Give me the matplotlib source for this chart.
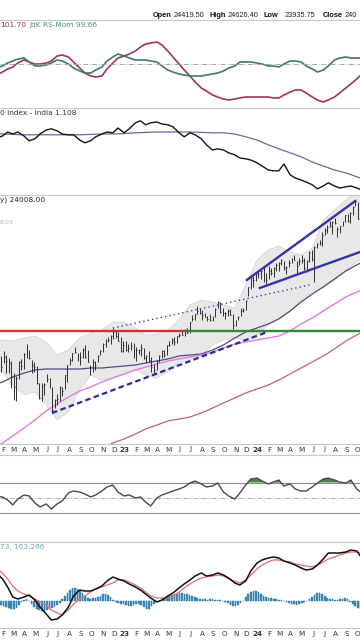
import matplotlib
matplotlib.use("Agg")
import matplotlib.pyplot as plt
import matplotlib.dates as mdates
import numpy as np
import pandas as pd

plt.rcParams['font.family'] = ['DejaVu Sans']

# ---------------- weekly price bars (Nifty-like, log scale) ----------------
closes = [17617, 17102, 17516, 17375, 17276, 16658, 16245, 16630, 17287, 17153,
          17670, 17784, 17476, 17172, 17102, 16411, 15782, 16266, 16352, 16584,
          16202, 15293, 15699, 15752, 16221, 16049, 16719, 17158, 17397, 17698,
          17758, 17558, 17539, 17833, 17531, 17327, 17094, 17315, 17186, 17576,
          17787, 18117, 18350, 18308, 18512, 18696, 18497, 18269, 17806, 18105,
          17859, 17956, 18027, 17604, 17854, 17856, 17944, 17466, 17594, 17413,
          17100, 16945, 17360, 17599, 17828, 17624, 18065, 18069, 18315, 18203,
          18499, 18534, 18563, 18826, 18665, 19189, 19332, 19564, 19745, 19646,
          19517, 19428, 19310, 19265, 19435, 19820, 20192, 19674, 19638, 19654,
          19751, 19542, 19047, 19230, 19425, 19732, 19795, 20268, 20970, 21457,
          21349, 21731,
          21711, 21895, 21572, 21353, 21854, 21783, 22041, 22213, 22339, 22494,
          22023, 22097, 22327, 22514, 22519, 22147, 22420, 22476, 22055, 22466,
          22957, 22531, 23290, 23466, 23501, 24010, 24323, 24502, 24531, 24834,
          24718, 24367, 24541, 24823, 25235, 24852, 25356, 25791, 26179, 25015,
          24964, 24854, 24181]
highs = [18350, 17600, 17794, 17640, 17490, 17351, 16815, 16694, 17344, 17442,
         17703, 18114, 17842, 17414, 17322, 17132, 16404, 16400, 16415, 16793,
         16611, 16236, 15749, 15927, 16275, 16248, 16752, 17172, 17490, 17724,
         17992, 17726, 17777, 17925, 18096, 17838, 17196, 17428, 17348, 17637,
         17838, 18176, 18362, 18443, 18534, 18887, 18728, 18696, 18473, 18265,
         18252, 18141, 18201, 18183, 17972, 17916, 18134, 17954, 17645, 17800,
         17529, 17207, 17381, 17638, 17842, 17864, 18089, 18263, 18389, 18458,
         18508, 18663, 18777, 18864, 18886, 19201, 19523, 19595, 19991, 19867,
         19795, 19645, 19495, 19584, 19458, 19867, 20222, 20195, 19877, 19674,
         19843, 19849, 19593, 19276, 19464, 19876, 19876, 20291, 21006, 21493,
         21593, 21801,
         21834, 21929, 22124, 21750, 22127, 22053, 22068, 22297, 22353, 22526,
         22446, 22180, 22516, 22619, 22775, 22427, 22626, 22794, 22588, 22503,
         23026, 23110, 23338, 23490, 23667, 24174, 24401, 24592, 24854, 24861,
         25078, 24472, 24563, 24867, 25269, 25333, 25433, 25849, 26277, 26135,
         25234, 25212, 24882]
lows = [17500, 16866, 17244, 16839, 16843, 16203, 15711, 15671, 16555, 16978,
        17006, 17506, 17442, 16824, 16889, 16340, 15735, 15671, 15903, 16438,
        16172, 15183, 15367, 15511, 15662, 15859, 16142, 16438, 17155, 17359,
        17710, 17345, 17166, 17487, 17497, 17292, 16748, 16855, 16950, 17312,
        17637, 17774, 17969, 18209, 18133, 18365, 18410, 18255, 17780, 17774,
        17796, 17774, 17852, 17493, 17353, 17652, 17573, 17456, 17256, 17324,
        16850, 16828, 16940, 17312, 17503, 17553, 17612, 18043, 18115, 18060,
        18178, 18465, 18557, 18483, 18646, 18647, 19241, 19295, 19563, 19563,
        19296, 19412, 19253, 19230, 19223, 19433, 19865, 19657, 19492, 19333,
        19480, 19520, 18837, 18973, 19258, 19493, 19669, 19768, 20507, 20862,
        20976, 21330,
        21500, 21448, 21285, 21137, 21448, 21630, 21530, 21876, 21860, 22224,
        21905, 21710, 22073, 22346, 22503, 21777, 22202, 22348, 21932, 21821,
        22404, 22418, 21281, 23206, 23398, 23350, 23992, 24141, 24504, 24074,
        24686, 23894, 24100, 24524, 24817, 24801, 24753, 25286, 25847, 24967,
        24694, 24567, 24074]
weeks = pd.date_range('2022-01-21', periods=len(closes), freq='W-FRI')

# ---------------- monthly overlays ----------------
months = pd.date_range('2022-01-01', periods=35, freq='MS')
ma_navy = [16300, 16441, 16654, 16826, 16957, 17000, 17000, 17000, 17000, 17044,
           17044, 17089, 17133, 17177, 17264, 17354, 17444, 17579, 17623, 17669,
           17852, 18083, 18411, 18697, 18891, 19085, 19333, 19733, 20195, 20614,
           20989, 21425, 21870, 22210, 22555]
ma_magenta = [13800, 14057, 14311, 14609, 14913, 15261, 15539, 15821, 16067, 16232,
              16441, 16612, 16783, 16957, 17089, 17221, 17354, 17444, 17533, 17623,
              17759, 17944, 18129, 18223, 18317, 18411, 18505, 18744, 19085, 19383,
              19733, 20092, 20456, 20722, 20989]
bb_upper = [18350, 18317, 18270, 18411, 18505, 18225, 17623, 17852, 18411, 18650,
            18794, 19185, 19185, 18890, 18554, 18600, 18794, 19282, 20041, 20300,
            20195, 20041, 19890, 21098, 22497, 23083, 23322, 22970, 22788, 23200,
            24932, 25582, 26247, 26790, 26587]
bb_lower = [17200, 16870, 16316, 15901, 16026, 15499, 14913, 15222, 16108, 16741,
            16527, 16612, 16870, 16957, 16741, 16612, 16870, 17310, 17398, 17623,
            18083, 18317, 18411, 18317, 18554, 19036, 19380, 19700, 20300, 20720,
            20960, 21370, 21927, 22380, 22788]
brown_months = pd.date_range('2022-10-01', periods=26, freq='MS')
ma_brown = [13700, 13876, 14057, 14202, 14384, 14571, 14721, 14875, 14951, 15028,
            15183, 15379, 15578, 15780, 15983, 16149, 16316, 16527, 16783, 17044,
            17310, 17579, 17898, 18270, 18554, 18843]

# trend lines (date, price)
level_price = 18750
level_red = ['2022-01-01', '2023-06-21']
level_green = ['2023-06-21', '2024-12-31']
dotted_dates, dotted_prices = ['2022-12-01', '2024-05-24'], [18887, 21098]
dashed_dates, dashed_prices = ['2022-06-17', '2024-01-28'], [15183, 18690]
wedge_up_dates, wedge_up_prices = ['2023-12-04', '2024-09-27'], [21370, 26180]
wedge_lo_dates, wedge_lo_prices = ['2024-01-09', '2024-10-10'], [20936, 22964]

# ---------------- indicator panels (semi-monthly readings) ----------------
half = pd.date_range('2022-01-15', periods=67, freq='SMS')
rs_ratio = [98.9, 99.2, 99.5, 99.7, 100.1, 100.4, 100.2, 100.0, 100.0, 100.1,
            100.3, 100.8, 100.9, 100.7, 100.2, 99.6, 99.1, 98.8, 98.7, 98.8,
            99.5, 100.1, 100.6, 100.8, 101.0, 101.3, 101.7, 102.0, 102.1, 102.2,
            101.9, 101.3, 100.7, 100.0, 99.4, 98.8, 98.2, 97.6, 97.3, 96.9,
            96.7, 96.5, 96.4, 96.5, 96.6, 96.7, 96.7, 96.7, 96.7, 96.7,
            96.6, 96.6, 96.9, 97.2, 97.4, 97.4, 97.1, 96.7, 96.4, 96.2,
            96.4, 96.7, 97.1, 97.6, 98.0, 98.5, 99.0]
rs_mom = [99.6, 99.8, 100.1, 100.3, 100.5, 100.6, 100.2, 99.8, 99.8, 99.9,
          100.1, 100.4, 100.3, 100.0, 99.6, 99.3, 99.1, 99.1, 99.4, 99.7,
          100.3, 100.7, 101.0, 100.8, 100.6, 100.4, 100.4, 100.4, 100.3, 100.2,
          99.8, 99.4, 99.2, 99.0, 98.9, 98.8, 98.8, 98.8, 98.9, 99.0,
          99.1, 99.3, 99.6, 99.8, 100.2, 100.2, 100.2, 100.1, 100.0, 99.8,
          99.8, 99.7, 100.0, 100.3, 100.3, 100.2, 99.8, 99.5, 99.2, 99.4,
          99.8, 100.4, 100.6, 100.7, 100.6, 100.6, 100.6]
ratio = [1.238, 1.243, 1.253, 1.248, 1.253, 1.243, 1.231, 1.236, 1.248, 1.258,
         1.261, 1.256, 1.248, 1.246, 1.246, 1.233, 1.226, 1.231, 1.241, 1.248,
         1.253, 1.251, 1.263, 1.251, 1.261, 1.276, 1.281, 1.271, 1.276, 1.278,
         1.273, 1.271, 1.266, 1.251, 1.241, 1.251, 1.246, 1.236, 1.221, 1.208,
         1.211, 1.208, 1.201, 1.196, 1.188, 1.186, 1.183, 1.176, 1.168, 1.158,
         1.156, 1.156, 1.173, 1.146, 1.138, 1.133, 1.128, 1.121, 1.111, 1.118,
         1.126, 1.118, 1.113, 1.116, 1.118, 1.113, 1.108]
ratio_ma = [1.248, 1.248, 1.247, 1.246, 1.246, 1.246, 1.246, 1.246, 1.246, 1.247,
            1.248, 1.248, 1.249, 1.251, 1.252, 1.253, 1.253, 1.253, 1.253, 1.252,
            1.251, 1.251, 1.248, 1.241, 1.233, 1.221, 1.211, 1.201, 1.191, 1.178,
            1.168, 1.158, 1.151, 1.141, 1.133]
rsi = [52.6, 51.3, 47.4, 41.0, 48.7, 53.9, 52.6, 43.5, 38.4, 42.3,
       35.8, 42.3, 46.1, 56.5, 59.0, 57.7, 55.2, 51.3, 53.9, 59.0,
       64.2, 66.8, 57.7, 52.6, 53.9, 50.0, 51.3, 44.8, 39.7, 50.0,
       53.9, 56.5, 59.0, 61.6, 64.2, 69.4, 71.9, 68.1, 64.2, 65.5,
       69.4, 57.7, 52.6, 48.7, 56.5, 66.8, 74.5, 75.8, 71.9, 68.1,
       70.6, 73.2, 65.5, 68.1, 61.6, 59.0, 59.0, 64.2, 69.4, 74.5,
       75.8, 73.2, 70.6, 69.4, 73.2, 61.6, 56.5]
macd = [700, 550, 350, 100, 50, 100, 150, 25, -150, -325,
        -475, -450, -350, -150, 125, 275, 250, 250, 300, 375,
        500, 600, 550, 500, 425, 350, 275, 175, 75, -25,
        25, 125, 200, 325, 425, 525, 625, 700, 625, 650,
        700, 650, 575, 450, 400, 500, 750, 950, 1025, 1075,
        1100, 1075, 1000, 950, 900, 825, 775, 800, 900, 1050,
        1200, 1200, 1200, 1225, 1275, 1250, 1075]
signal = [825, 700, 550, 375, 250, 175, 125, 50, -25, -100,
          -225, -300, -350, -225, -75, 50, 125, 225, 300, 350,
          400, 450, 525, 525, 475, 400, 325, 225, 125, 75,
          75, 75, 125, 225, 325, 425, 500, 575, 600, 625,
          650, 625, 550, 500, 450, 525, 650, 800, 900, 975,
          1025, 1025, 1000, 975, 925, 900, 875, 850, 900, 975,
          1050, 1100, 1150, 1200, 1225, 1225, 1200]
hist = [-100, -100, -125, -150, -175, -200, -200, -175, -100, -25, 25, 50, 0,
        -75, -150, -200, -225, -250, -250, -225, -200, -175, -150, -100, -50,
        50, 125, 200, 275, 325, 325, 300, 250, 200, 125, 75, 50, 75, 75, 100,
        125, 175, 175, 150, 100, 25, -25, -50, -75, -75, -100, -125, -125, -100,
        -75, -75, -100, -150, -200, -200, -125, -75, -25, 0, 25, 50,
        100, 125, 150, 175, 175, 200, 200, 175, 175, 150, 125, 100, 75,
        50, 50, 50, 25, 50, 50, 25, 25, 25, 0, -25, -50,
        -100, -125, -125, -100, -50, 0, 100, 175, 225, 250, 250, 225, 175,
        125, 100, 75, 75, 50, 50, 25, 25, 0, -25, -50, -75, -75, -100, -75,
        -50, -25, 0, 50, 100, 150, 200, 200, 175, 125, 75, 50, 50, 25, 25,
        50, 50, 75, 50, -25, -75, -125, -175, -200, -200, -200]

month_labels = ['F', 'M', 'A', 'M', 'J', 'J', 'A', 'S', 'O', 'N', 'D', '23',
                'F', 'M', 'A', 'M', 'J', 'J', 'A', 'S', 'O', 'N', 'D', '24',
                'F', 'M', 'A', 'M', 'J', 'J', 'A', 'S', 'O']
label_months = pd.date_range('2022-02-01', periods=len(month_labels), freq='MS')

# ---------------- figure ----------------
W, H = 360, 640
fig = plt.figure(figsize=(3.6, 6.4), dpi=100)


def axes_px(top, bottom):
    return fig.add_axes([0, 1 - bottom / H, 1, (bottom - top) / H])


ax1 = axes_px(20, 108)
ax2 = axes_px(108, 195)
ax3 = axes_px(195, 444)
ax4 = axes_px(455, 542)
ax5 = axes_px(542, 628)

x0, x1 = pd.Timestamp('2022-01-25'), pd.Timestamp('2024-10-10')
grid_c = '#c8c8c8'
for ax in (ax1, ax2, ax3, ax4, ax5):
    ax.set_xlim(x0, x1)
    ax.tick_params(which='both', left=False, bottom=False, right=False, top=False,
                   labelleft=False, labelbottom=False)
    for s in ax.spines.values():
        s.set_visible(False)
    ax.spines['top'].set_visible(True)
    ax.spines['top'].set_color(grid_c)
    ax.spines['top'].set_linewidth(0.8)
    ax.patch.set_alpha(0)
for ax in (ax3, ax4, ax5):
    ax.spines['bottom'].set_visible(True)
    ax.spines['bottom'].set_color(grid_c)
    ax.spines['bottom'].set_linewidth(0.8)

# panel 1: RS-Ratio / RS-Momentum
ax1.plot(half, rs_ratio, color='#a3335f', lw=1.2)
ax1.plot(half, rs_mom, color='#3d7d5c', lw=1.2)
ax1.axhline(100, color='#9a9a9a', lw=0.6, ls=(0, (6, 2, 1, 2)))
ax1.set_ylim(95.6, 104.4)

# panel 2: relative ratio
ax2.plot(months, ratio_ma, color='#6a6aa0', lw=0.9)
ax2.plot(half, ratio, color='#151515', lw=1.0)
ax2.set_ylim(1.0955, 1.313)

# panel 3: price
ax3.set_yscale('log')
ax3.fill_between(months, bb_lower, bb_upper, color='#e8e8e8', lw=0, zorder=1)
ax3.plot(months, bb_upper, color='#d0d0d0', lw=0.5, zorder=1)
ax3.plot(months, bb_lower, color='#d0d0d0', lw=0.5, zorder=1)
ax3.plot(months, ma_navy, color='#4b4b82', lw=0.9, zorder=2)
ax3.plot(months, ma_magenta, color='#e07be0', lw=1.0, zorder=2)
ax3.plot(brown_months, ma_brown, color='#c0607a', lw=0.9, zorder=2)

wx = mdates.date2num(weeks)
ax3.vlines(wx, lows, highs, color='#2e2e2e', lw=0.7, zorder=3)
ax3.hlines(closes, wx, wx + 2.5, color='#2e2e2e', lw=0.7, zorder=3)

ax3.plot(pd.to_datetime(level_red), [level_price] * 2, color='#c8372d', lw=1.7, zorder=4)
ax3.plot(pd.to_datetime(level_green), [level_price] * 2, color='#2f8a36', lw=1.7, zorder=4)
ax3.plot(pd.to_datetime(dotted_dates), dotted_prices, color='#3a3aa5', lw=1.0,
         ls=(0, (1, 2.2)), zorder=4)
ax3.plot(pd.to_datetime(dashed_dates), dashed_prices, color='#2a2a9a', lw=1.6,
         ls=(0, (2.5, 1.5)), zorder=4)
ax3.plot(pd.to_datetime(wedge_up_dates), wedge_up_prices, color='#3333a8', lw=1.7, zorder=4)
ax3.plot(pd.to_datetime(wedge_lo_dates), wedge_lo_prices, color='#3333a8', lw=1.7, zorder=4)
ax3.set_ylim(14020, 26587)
ax3.tick_params(which='both', left=False, labelleft=False)

# panel 4: RSI
rsi_a = np.array(rsi)
ax4.plot(half, rsi, color='#4a4a4a', lw=1.0, zorder=3)
ax4.fill_between(half, rsi_a, 70, where=rsi_a > 70, interpolate=True,
                 color='#4e7d50', lw=0, zorder=2)
ax4.axhline(70, color='#8c8c8c', lw=0.8)
ax4.axhline(30, color='#8c8c8c', lw=0.8)
ax4.axhline(50, color='#a0a0a0', lw=0.6, ls=(0, (6, 2, 1, 2)))
ax4.set_ylim(-6.8, 105.5)

# panel 5: MACD
ax5.bar(weeks, hist, width=4.5, color='#3f8fc2', edgecolor='#2a6f9a', lw=0.3, zorder=1)
ax5.plot(half, signal, color='#e07070', lw=0.9, zorder=2)
ax5.plot(half, macd, color='#111111', lw=1.1, zorder=3)
ax5.set_ylim(-675, 1475)

# month labels
for ax, ypx, top, bot in ((ax3, 449.5, 195, 444), (ax5, 634, 542, 628)):
    yfrac = (bot - ypx) / (bot - top)
    for d, lab in zip(label_months, month_labels):
        bold = lab.isdigit()
        ax.text(d + pd.Timedelta(days=2), yfrac, lab, transform=ax.get_xaxis_transform(),
                ha='center', va='center', fontsize=5.2, color='#333333',
                fontweight='bold' if bold else 'normal', clip_on=False)


def ftxt(x, y, s, **kw):
    fig.text(x / W, 1 - y / H, s, ha='left', va='center', **kw)


hf = ['Liberation Sans', 'DejaVu Sans']
ftxt(153, 15.5, 'Open', fontsize=5.3, fontweight='bold', family=hf, color='#111')
ftxt(174, 15.5, '24419.50', fontsize=5.3, family=hf, color='#222')
ftxt(210, 15.5, 'High', fontsize=5.3, fontweight='bold', family=hf, color='#111')
ftxt(228, 15.5, '24626.40', fontsize=5.3, family=hf, color='#222')
ftxt(264, 15.5, 'Low', fontsize=5.3, fontweight='bold', family=hf, color='#111')
ftxt(285, 15.5, '23935.75', fontsize=5.3, family=hf, color='#222')
ftxt(323, 15.5, 'Close', fontsize=5.3, fontweight='bold', family=hf, color='#111')
ftxt(345, 15.5, '240', fontsize=5.3, family=hf, color='#222')

ftxt(0, 25, '101.70', fontsize=5.3, color='#8b3158')
ftxt(29, 25, 'JdK RS-Mom 99.66', fontsize=5.3, color='#4f8a70')
ftxt(0, 113, '0 Index - India 1.108', fontsize=5.3, color='#333333')
ftxt(0, 200, 'y) 24008.00', fontsize=5.3, color='#222222')
ftxt(0, 223, '8.03', fontsize=4.6, color='#b0b0b0')
ftxt(0, 547, '73, 163.266', fontsize=5.3, color='#6aa6b8')

fig.savefig('out.png', dpi=100)
